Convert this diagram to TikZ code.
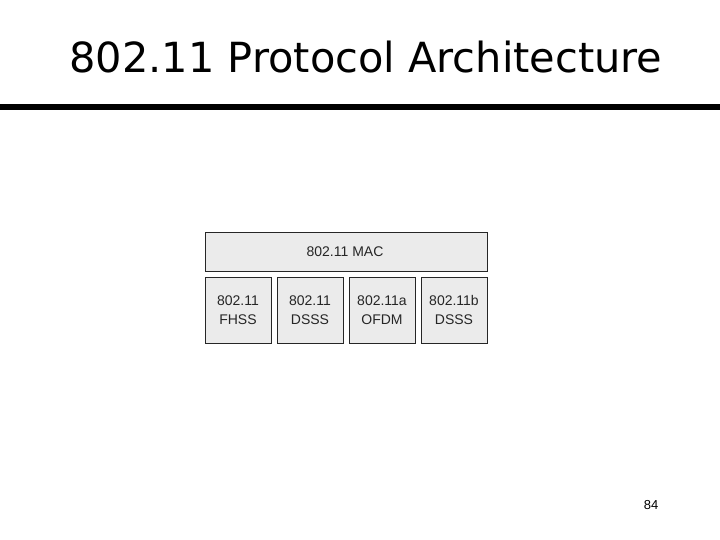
\documentclass[tikz,border=0pt]{standalone}
\usepackage{fontspec}
\setmainfont{Liberation Sans}
\newfontfamily\titlefont{DejaVu Sans}
\begin{document}
\begin{tikzpicture}[x=1pt,y=-1pt,
  layerbox/.style={draw=black!85,line width=0.8pt,fill=black!8,inner sep=0pt},
  boxtext/.style={font=\fontsize{14}{18.5}\selectfont,align=center,text=black!85}]
\useasboundingbox (0,0) rectangle (720,540);
\node[font=\titlefont\fontsize{41.5}{44}\selectfont,anchor=base] (title) at (366,73) {802.11 Protocol Architecture};
\fill (0,104) rectangle (720,110);
\path[layerbox] (205,232) rectangle (487,271);
\node[boxtext] (mac) at (345,252) {802.11 MAC};
\path[layerbox] (205,277) rectangle (271,343);
\node[boxtext] (fhss) at (238,310) {802.11\\FHSS};
\path[layerbox] (277,277) rectangle (343,343);
\node[boxtext] (dsss) at (310,310) {802.11\\DSSS};
\path[layerbox] (349,277) rectangle (415,343);
\node[boxtext] (ofdm) at (382,310) {802.11a\\OFDM};
\path[layerbox] (421,277) rectangle (487,343);
\node[boxtext] (dsssb) at (454,310) {802.11b\\DSSS};
\node[font=\fontsize{13}{15}\selectfont] (page) at (651,505) {84};
\end{tikzpicture}
\end{document}
